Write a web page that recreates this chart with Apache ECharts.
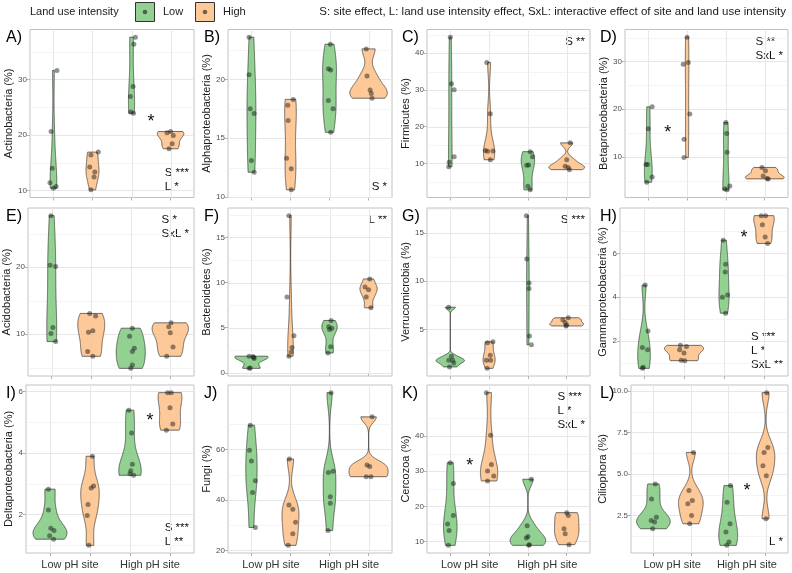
<!DOCTYPE html>
<html><head><meta charset="utf-8">
<script src="https://cdn.jsdelivr.net/npm/echarts@6/dist/echarts.min.js"></script>
<style>html,body{margin:0;padding:0;background:#fff}#c{width:792px;height:573px}</style>
</head><body><div id="c"></div>
<script>
// ---------------- data ----------------
const siteLabels = ['Low pH site', 'High pH site'];
const landUseLabels = ['Low', 'High'];
const panelLetters = ['A)','B)','C)','D)','E)','F)','G)','H)','I)','J)','K)','L)'];
const yTitles = ['Actinobacteria (%)','Alphaproteobacteria (%)','Firmicutes (%)','Betaproteobacteria (%)',
  'Acidobacteria (%)','Bacteroidetes (%)','Verrucomicrobia (%)','Gammaproteobacteria (%)',
  'Deltaproteobacteria (%)','Fungi (%)','Cercozoa (%)','Ciliophora (%)'];
const yTickValues = [[10,20,30],[10,15,20],[10,20,30,40],[10,20,30],[10,20],[0,5,10,15],[5,10,15],[2,4,6],[2,4,6],[20,40,60],[10,20,30,40],[2.5,5,7.5,10]];
const yTickLabels = [['10','20','30'],['10','15','20'],['10','20','30','40'],['10','20','30'],['10','20'],['0','5','10','15'],['5','10','15'],['2','4','6'],['2','4','6'],['20','40','60'],['10','20','30','40'],['2.5','5.0','7.5','10.0']];

// groups: [Low pH/Low LUI, Low pH/High LUI, High pH/Low LUI, High pH/High LUI]
const actinobacteria = [[31.6,20.6,14.0,11.4,10.7,10.4],[16.9,16.4,14.2,13.3,12.4,10.1],[37.6,36.3,28.7,26.9,24.1,23.9],[20.6,20.4,19.9,18.4,17.5]];
const actinobacteriaJitter = [[0.09,-0.06,-0.03,-0.09,0.07,0.0],[0.15,-0.04,-0.07,0.06,0.04,-0.04],[0.1,0.06,0.04,-0.03,-0.02,0.05],[0.0,-0.09,0.07,0.04,-0.04]];
const alphaproteobacteria = [[23.6,20.4,17.5,17.1,13.1,12.1],[18.3,17.8,16.5,13.3,12.4,10.6],[23.0,20.9,20.8,18.2,17.5,15.5],[22.6,20.3,19.1,18.8,18.4]];
const alphaproteobacteriaJitter = [[-0.06,-0.06,-0.03,0.07,0.0,0.07],[0.07,-0.07,-0.06,-0.1,0.02,0.02],[0.02,-0.03,0.03,-0.03,0.09,0.03],[-0.06,-0.04,0.04,0.07,0.09]];
const firmicutes = [[44.4,31.7,30.1,11.8,10.3,9.1],[37.5,23.5,13.5,13.4,13.3,11.0],[13.2,11.8,9.6,9.5,3.8,2.8],[15.6,11.0,9.2,8.9,8.3]];
const firmicutesJitter = [[0.0,0.03,0.1,0.1,-0.03,-0.04],[-0.06,0.03,-0.1,0.1,-0.04,0.03],[0.06,0.12,0.02,-0.03,0.0,0.06],[0.09,0.0,-0.04,0.04,0.07]];
const betaproteobacteria = [[20.5,15.9,8.4,8.4,5.8,4.7],[35.1,29.8,29.4,19.0,13.7,9.9],[17.2,14.9,11.0,3.9,3.3,3.1],[7.8,7.1,6.0,5.5,5.4]];
const betaproteobacteriaJitter = [[0.1,0.0,-0.06,-0.02,0.1,-0.04],[0.0,0.03,-0.1,0.07,-0.08,-0.08],[0.0,0.02,0.03,0.1,-0.03,0.03],[-0.07,0.02,-0.04,0.06,0.09]];
const acidobacteria = [[27.7,20.3,20.1,11.0,10.1,8.9],[13.1,12.7,10.5,10.3,7.4,6.7],[10.9,9.7,7.9,7.4,5.4,4.9],[11.7,11.1,10.2,8.1,6.7]];
const acidobacteriaJitter = [[-0.02,-0.04,0.1,0.03,-0.02,0.1],[-0.04,0.11,0.04,-0.07,-0.09,0.04],[0.04,-0.03,0.09,0.04,0.04,0.0],[0.02,-0.04,0.0,0.07,-0.09]];
const bacteroidetes = [[1.85,1.8,1.7,1.6,0.55,0.5],[17.4,8.4,4.1,2.8,2.3,1.85],[5.8,5.1,4.95,4.8,2.9,2.2],[10.4,9.5,9.2,8.4,7.2]];
const bacteroidetesJitter = [[-0.06,0.04,0.06,0.07,-0.03,-0.06],[-0.04,-0.09,0.09,0.04,0.02,-0.04],[0.04,-0.02,0.06,0.0,0.03,-0.04],[0.03,-0.09,0.0,-0.06,0.06]];
const verrucomicrobia = [[7.3,2.2,1.8,1.8,1.5,1.1],[3.7,3.6,2.3,1.8,1.8,0.95],[16.8,12.3,9.8,9.25,4.3,3.4],[6.2,6.0,5.7,5.45,5.35]];
const verrucomicrobiaJitter = [[-0.04,0.03,-0.04,0.06,0.09,-0.02],[0.1,-0.04,0.03,-0.07,0.04,-0.05],[-0.04,-0.03,0.03,0.03,0.04,0.09],[0.04,-0.1,-0.04,0.0,-0.02]];
const gammaproteobacteria = [[4.55,2.45,1.7,1.6,0.8,0.75],[1.8,1.75,1.6,1.45,1.12,1.1],[6.6,5.5,5.15,4.1,4.0,3.27],[7.72,7.72,7.3,6.75,6.45]];
const gammaproteobacteriaJitter = [[0.03,0.1,-0.04,0.09,-0.02,-0.04],[-0.09,0.06,-0.11,0.0,-0.07,0.02],[-0.02,0.04,0.03,0.09,-0.04,0.04],[-0.07,0.04,-0.04,0.03,0.09]];
const deltaproteobacteria = [[2.82,2.14,1.55,1.47,1.3,1.19],[3.89,2.92,2.86,2.32,1.96,0.99],[5.39,4.65,3.63,3.42,3.32,3.27],[5.96,5.96,5.47,4.94,4.74]];
const deltaproteobacteriaJitter = [[-0.04,-0.04,0.02,0.1,-0.01,0.09],[0.06,0.09,0.03,-0.05,-0.07,-0.03],[-0.03,0.04,0.06,0.02,0.0,0.09],[-0.06,0.03,0.0,0.07,-0.09]];
const fungi = [[69.6,59.7,55.4,47.6,42.9,29.1],[56.2,38.0,36.3,31.2,26.6,22.0],[82.5,51.4,50.9,41.3,38.7,27.9],[72.9,53.8,53.2,49.2,49.2]];
const fungiJitter = [[-0.03,-0.05,0.0,0.1,0.03,0.1],[-0.03,-0.04,0.06,0.13,0.06,-0.06],[0.04,0.09,-0.03,0.02,0.02,-0.04],[0.09,-0.04,0.03,-0.06,0.06]];
const cercozoa = [[32.4,26.5,17.4,15.0,13.1,8.9],[52.3,40.2,31.9,30.0,28.6,27.2],[27.7,14.5,11.4,11.0,9.1,8.9],[18.2,17.4,13.6,12.2,9.1]];
const cercozoaJitter = [[0.0,0.08,0.08,-0.07,-0.03,-0.05],[-0.07,0.04,0.06,-0.04,0.12,-0.04],[0.09,-0.02,0.0,-0.04,0.04,0.02],[0.0,0.04,-0.07,-0.04,0.06]];
const ciliophora = [[4.4,3.5,2.4,2.2,2.1,1.7],[6.3,4.0,3.4,3.2,2.5,2.0],[4.3,3.3,2.0,1.5,0.9,0.7],[9.9,6.6,6.3,5.5,4.9,2.3]];
const ciliophoraJitter = [[0.05,-0.05,0.08,-0.06,0.03,-0.02],[0.07,-0.05,0.04,-0.08,0.02,-0.03],[0.06,-0.03,0.05,-0.06,0.02,-0.04],[0.03,0.06,-0.04,-0.07,0.02,0.01]];

const panelValues = [actinobacteria, alphaproteobacteria, firmicutes, betaproteobacteria, acidobacteria, bacteroidetes, verrucomicrobia, gammaproteobacteria, deltaproteobacteria, fungi, cercozoa, ciliophora];
const panelJitter = [actinobacteriaJitter, alphaproteobacteriaJitter, firmicutesJitter, betaproteobacteriaJitter, acidobacteriaJitter, bacteroidetesJitter, verrucomicrobiaJitter, gammaproteobacteriaJitter, deltaproteobacteriaJitter, fungiJitter, cercozoaJitter, ciliophoraJitter];

const statLines = [['S ***','L *'],['S *'],['S **'],['S **','SxL *'],['S *','SxL *'],['L **'],['S ***'],['S ***','L *','SxL **'],['S ***','L **'],[],['S ***','L *','SxL *'],['L *']];
const statCorner = ['bottom','bottom','top','top','top','top','top','bottom','bottom','top','top','bottom'];
// pairwise significance marks: [panel, x position, y value]
const starMarks = [[0,3.5,23.0],[3,1.5,15.9],[7,3.5,6.86],[8,3.5,5.18],[10,1.5,32.6],[11,3.5,4.2]];
const legendTitle = 'Land use intensity';
const effectNote = 'S: site effect, L: land use intensity effect, SxL: interactive effect of site and land use intensity';

// ---------------- style / layout ----------------
const FONT = '"Liberation Sans", Arial, Helvetica, sans-serif';
const fills = ['rgba(127,201,127,0.85)','rgba(253,192,134,0.85)'];
const colX0 = [0,198,396,594];
const rowTop = [29.5,208,385];
const plotHeight = 168;
const plotLeftOffset = [30,30,31,31,28,30,31,26,26,30,31,37];
const plotRightOffset = 194;
const violinWidth = [0.68,0.96,0.92,1.0,0.92,0.85,0.87,0.98,0.85,1.0,0.92,0.9];

// ---------------- helpers ----------------
function q7(s,p){const h=(s.length-1)*p,l=Math.floor(h),u=Math.min(l+1,s.length-1);return s[l]+(h-l)*(s[u]-s[l]);}
function bwNrd0(x){
  const n=x.length, m=x.reduce((a,b)=>a+b,0)/n;
  const sd=Math.sqrt(x.reduce((a,b)=>a+(b-m)*(b-m),0)/(n-1));
  const s=[...x].sort((a,b)=>a-b); const iqr=q7(s,0.75)-q7(s,0.25);
  let lo=Math.min(sd,iqr/1.34); if(!(lo>0)) lo=sd||Math.abs(s[0])||1;
  return 0.9*lo*Math.pow(n,-0.2);
}
function kde(x){
  const bw=bwNrd0(x), lo=Math.min(...x), hi=Math.max(...x), N=256, ys=[], ds=[];
  for(let i=0;i<N;i++){const y=lo+(hi-lo)*i/(N-1);let d=0;for(const xi of x){const z=(y-xi)/bw;d+=Math.exp(-0.5*z*z);}ds.push(d/(x.length*bw*Math.sqrt(2*Math.PI)));ys.push(y);}
  return {ys,ds};
}
const mctx=document.createElement('canvas').getContext('2d');
function textW(s,size){mctx.font=size+'px '+FONT;return mctx.measureText(s).width;}

// ---------------- build ----------------
const grids=[],xAxes=[],yAxes=[],series=[],graphics=[];
panelValues.forEach((groups,p)=>{
  const col=p%4,row=Math.floor(p/4);
  const left=colX0[col]+plotLeftOffset[p], right=colX0[col]+plotRightOffset, top=rowTop[row];
  grids.push({left,top,width:right-left,height:plotHeight,show:true,borderColor:'#c2c2c2',borderWidth:1,backgroundColor:'transparent'});
  const all=groups.flat(); const lo=Math.min(...all),hi=Math.max(...all),r=hi-lo;
  const ymin=lo-0.05*r,ymax=hi+0.05*r;
  const ticks=yTickValues[p], labs=yTickLabels[p];
  xAxes.push({type:'value',gridIndex:p,min:0.4,max:4.6,splitLine:{show:false},axisLine:{show:false},
    axisTick:{show:true,customValues:[1,2,3,4],length:3,lineStyle:{color:'#b3b3b3'}},
    axisLabel:{show:row===2,customValues:[1.5,3.5],formatter:v=>v<2.5?siteLabels[0]:siteLabels[1],fontSize:11,color:'#333',margin:6,fontFamily:FONT}});
  yAxes.push({type:'value',gridIndex:p,min:ymin,max:ymax,splitLine:{show:false},axisLine:{show:false},
    axisTick:{show:true,customValues:ticks,length:3,lineStyle:{color:'#b3b3b3'}},
    axisLabel:{customValues:ticks,fontSize:8,color:'#4d4d4d',margin:3,fontFamily:FONT,
      formatter:v=>{const i=ticks.findIndex(t=>Math.abs(t-v)<1e-9);return i>=0?labs[i]:'';}},
    name:yTitles[p],nameLocation:'middle',nameRotate:90,nameGap:plotLeftOffset[p]-15,
    nameTextStyle:{fontSize:11,color:'#1a1a1a',fontFamily:FONT}});
  // grid lines
  const gl=[];
  [1,2,3,4].forEach(v=>gl.push([v,ymin,0]));
  ticks.forEach(v=>gl.push([1,v,1]));
  const step=ticks.length>1?ticks[1]-ticks[0]:ticks[0];
  for(let v=ticks[0]-step/2;v<=ymax;v+=step){ if(v>=ymin && !ticks.some(t=>Math.abs(t-v)<1e-9)) gl.push([1,v,2]); }
  series.push({type:'custom',xAxisIndex:p,yAxisIndex:p,z:1,silent:true,data:gl,
    renderItem:(params,api)=>{
      const cs=params.coordSys,k=api.value(2),pt=api.coord([api.value(0),api.value(1)]);
      if(k===0){const x=Math.round(pt[0])+0.5;return {type:'line',shape:{x1:x,y1:cs.y,x2:x,y2:cs.y+cs.height},style:{stroke:'#e8e8e8',lineWidth:1}};}
      const y=Math.round(pt[1])+0.5;
      return {type:'line',shape:{x1:cs.x,y1:y,x2:cs.x+cs.width,y2:y},style:{stroke:k===1?'#e6e6e6':'#efefef',lineWidth:k===1?1:0.7}};
    }});
  // violins
  const dens=groups.map(g=>kde(g));
  const maxD=Math.max(...dens.map(d=>Math.max(...d.ds)));
  series.push({type:'custom',xAxisIndex:p,yAxisIndex:p,z:2,silent:true,
    data:groups.map((g,i)=>[i+1,g[0],i]),
    renderItem:(params,api)=>{
      const gi=api.value(2),cx=gi+1,d=dens[gi],half=violinWidth[p]/2;
      const pts=[];
      for(let i=0;i<d.ys.length;i++) pts.push(api.coord([cx+d.ds[i]/maxD*half,d.ys[i]]));
      for(let i=d.ys.length-1;i>=0;i--) pts.push(api.coord([cx-d.ds[i]/maxD*half,d.ys[i]]));
      return {type:'polygon',shape:{points:pts},style:{fill:fills[gi%2],stroke:'#1a1a1a',lineWidth:0.6}};
    }});
  // points
  const pts=[];
  groups.forEach((g,i)=>g.forEach((v,j)=>pts.push([i+1+panelJitter[p][i][j],v])));
  series.push({type:'scatter',xAxisIndex:p,yAxisIndex:p,z:3,silent:true,symbolSize:5,data:pts,
    itemStyle:{color:'rgba(25,25,25,0.6)'}});
  // stars
  const stars=starMarks.filter(s=>s[0]===p).map(s=>[s[1],s[2]]);
  if(stars.length) series.push({type:'custom',xAxisIndex:p,yAxisIndex:p,z:4,silent:true,data:stars,
    renderItem:(params,api)=>{const c=api.coord([api.value(0),api.value(1)]);
      return {type:'text',x:c[0],y:c[1]+4,style:{text:'*',fontSize:18,fontFamily:FONT,fill:'#111',align:'center',verticalAlign:'middle',textAlign:'center',textVerticalAlign:'middle'}};}});
  // panel letter
  graphics.push({type:'text',x:colX0[col]+6,y:top+0.5,style:{text:panelLetters[p],font:'16px '+FONT,fill:'#000',align:'left',verticalAlign:'top',textAlign:'left',textVerticalAlign:'top'}});
  // stats
  const lines=statLines[p];
  if(lines.length){
    const fs=11.5, lh=14;
    const w=Math.max(...lines.map(s=>textW(s,fs)));
    const bx=right-5-w;
    lines.forEach((s,i)=>{
      const cy=statCorner[p]==='top'?top+12+i*lh:top+plotHeight-11-(lines.length-1-i)*lh;
      graphics.push({type:'text',x:bx,y:cy,style:{text:s,font:fs+'px '+FONT,fill:'#111',align:'left',verticalAlign:'middle',textAlign:'left',textVerticalAlign:'middle'}});
    });
  }
});
// legend
graphics.push({type:'text',x:30,y:12,style:{text:legendTitle,font:'11px '+FONT,fill:'#1a1a1a',verticalAlign:'middle',textVerticalAlign:'middle'}});
[[135.5,163],[195.5,223]].forEach((k,i)=>{
  graphics.push({type:'rect',shape:{x:k[0],y:2.5,width:19,height:19},style:{fill:fills[i],stroke:'#333',lineWidth:1}});
  graphics.push({type:'circle',shape:{cx:k[0]+9.5,cy:12,r:2.3},style:{fill:'rgba(25,25,25,0.6)'}});
  graphics.push({type:'text',x:k[1],y:12,style:{text:landUseLabels[i],font:'11px '+FONT,fill:'#1a1a1a',verticalAlign:'middle',textVerticalAlign:'middle'}});
});
graphics.push({type:'text',x:786,y:12,style:{text:effectNote,font:'11.5px '+FONT,fill:'#1a1a1a',align:'right',textAlign:'right',verticalAlign:'middle',textVerticalAlign:'middle'}});

const chart=echarts.init(document.getElementById('c'),null,{renderer:'canvas'});
chart.setOption({animation:false,backgroundColor:'#fff',textStyle:{fontFamily:FONT},grid:grids,xAxis:xAxes,yAxis:yAxes,series,graphic:graphics});
</script></body></html>
